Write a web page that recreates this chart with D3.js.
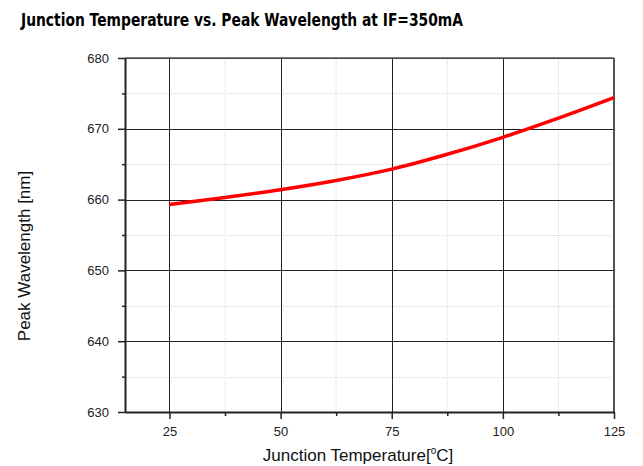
<!DOCTYPE html>
<html>
<head>
<meta charset="utf-8">
<script src="https://cdn.jsdelivr.net/npm/d3@7"></script>
<style>
  html, body { margin: 0; padding: 0; background: #fff; }
  svg { display: block; }
</style>
</head>
<body>
<svg id="chart" width="643" height="466"></svg>
<script>
// Junction temperature (°C) and measured peak wavelength (nm)
const temperature = [25, 37.5, 50, 62.5, 75, 87.5, 100, 112.5, 125];
const wavelength  = [659.3, 660.3, 661.4, 662.7, 664.3, 666.4, 668.8, 671.5, 674.4];

const xTicks = [25, 50, 75, 100, 125];
const xMinorTicks = [37.5, 62.5, 87.5, 112.5];
const yTicks = [630, 640, 650, 660, 670, 680];
const yMinorTicks = [635, 645, 655, 665, 675];

const svg = d3.select("#chart");
const margin = { left: 125, right: 29, top: 58, bottom: 54 };
const W = 643, H = 466;

const x = d3.scaleLinear().domain([15, 125]).range([margin.left, W - margin.right]);
const y = d3.scaleLinear().domain([630, 680]).range([H - margin.bottom, margin.top]);

// Title
svg.append("text")
  .attr("x", 21).attr("y", 26)
  .attr("font-family", "Tahoma, 'DejaVu Sans', sans-serif")
  .attr("font-weight", "bold")
  .attr("font-size", 18)
  .attr("textLength", 442)
  .attr("lengthAdjust", "spacingAndGlyphs")
  .attr("fill", "#000")
  .text("Junction Temperature vs. Peak Wavelength at IF=350mA");

const g = svg.append("g");

// Minor dotted grid
g.selectAll(".xminor").data(xMinorTicks).join("line")
  .attr("x1", d => x(d)).attr("x2", d => x(d))
  .attr("y1", y(630)).attr("y2", y(680))
  .attr("stroke", "#d8d8d8").attr("stroke-dasharray", "1,1");
g.selectAll(".yminor").data(yMinorTicks).join("line")
  .attr("x1", x(15)).attr("x2", x(125))
  .attr("y1", d => Math.round(y(d)) + 0.5).attr("y2", d => Math.round(y(d)) + 0.5)
  .attr("stroke", "#d8d8d8").attr("stroke-dasharray", "1,1");

// Major grid
g.selectAll(".xmajor").data(xTicks).join("line")
  .attr("x1", d => Math.round(x(d)) + 0.5).attr("x2", d => Math.round(x(d)) + 0.5)
  .attr("y1", y(630)).attr("y2", y(680))
  .attr("stroke", "#222").attr("stroke-width", 1);
g.selectAll(".ymajor").data(yTicks).join("line")
  .attr("x1", x(15)).attr("x2", x(125))
  .attr("y1", d => Math.round(y(d)) + 0.5).attr("y2", d => Math.round(y(d)) + 0.5)
  .attr("stroke", "#222").attr("stroke-width", 1);

// Frame: right and top edges
g.append("line")
  .attr("x1", x(125)).attr("x2", x(125)).attr("y1", y(630)).attr("y2", y(680))
  .attr("stroke", "#555").attr("stroke-width", 2);
g.append("line")
  .attr("x1", x(15)).attr("x2", x(125)).attr("y1", y(680)).attr("y2", y(680))
  .attr("stroke", "#555").attr("stroke-width", 1.5);

// Axes
const xAxis = d3.axisBottom(x).tickValues(xTicks).tickSize(7).tickPadding(8).tickSizeOuter(0);
const yAxis = d3.axisLeft(y).tickValues(yTicks).tickSize(7).tickPadding(9).tickSizeOuter(0);

const gx = svg.append("g").attr("transform", `translate(0,${y(630)})`).call(xAxis);
const gy = svg.append("g").attr("transform", `translate(${x(15)},0)`).call(yAxis);

[gx, gy].forEach(a => {
  a.select(".domain").attr("stroke", "#222").attr("stroke-width", 2);
  a.selectAll(".tick line").attr("stroke", "#222").attr("stroke-width", 1.5);
  a.selectAll(".tick text")
    .attr("font-family", "Arial, 'Liberation Sans', sans-serif")
    .attr("font-size", 13).attr("fill", "#222");
});

// Minor ticks
svg.append("g").attr("transform", `translate(0,${y(630)})`)
  .call(d3.axisBottom(x).tickValues(xMinorTicks).tickSize(4).tickFormat(""))
  .call(a => a.select(".domain").remove())
  .selectAll("line").attr("stroke", "#222").attr("stroke-width", 1.5);
svg.append("g").attr("transform", `translate(${x(15)},0)`)
  .call(d3.axisLeft(y).tickValues(yMinorTicks).tickSize(3).tickFormat(""))
  .call(a => a.select(".domain").remove())
  .selectAll("line").attr("stroke", "#222").attr("stroke-width", 1.5);

// Curve
const pts = temperature.map((t, i) => [t, wavelength[i]]);
svg.append("path")
  .datum(pts)
  .attr("fill", "none")
  .attr("stroke", "#ff0000")
  .attr("stroke-width", 3.5)
  .attr("d", d3.line().x(d => x(d[0])).y(d => y(d[1])).curve(d3.curveMonotoneX));

// Axis titles
const xl = svg.append("text")
  .attr("x", 358).attr("y", 461)
  .attr("text-anchor", "middle")
  .attr("font-family", "Arial, 'Liberation Sans', sans-serif")
  .attr("font-size", 17).attr("fill", "#111");
xl.append("tspan").text("Junction Temperature[");
xl.append("tspan").attr("font-size", 10).attr("dy", -7).text("o");
xl.append("tspan").attr("dy", 7).text("C]");

svg.append("text")
  .attr("transform", "translate(30,256) rotate(-90)")
  .attr("text-anchor", "middle")
  .attr("font-family", "Arial, 'Liberation Sans', sans-serif")
  .attr("font-size", 17).attr("fill", "#111")
  .text("Peak Wavelength [nm]");
</script>
</body>
</html>
